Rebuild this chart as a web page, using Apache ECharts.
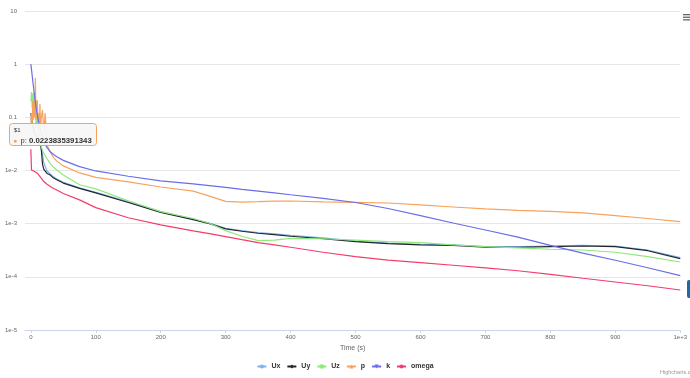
<!DOCTYPE html>
<html>
<head>
<meta charset="utf-8">
<script src="https://cdn.jsdelivr.net/npm/echarts@6/dist/echarts.min.js"></script>
<style>
  html, body { margin: 0; padding: 0; background: #fff; }
  #chart { width: 690px; height: 378px; }
</style>
</head>
<body>
<div id="chart"></div>
<script>
// residuals vs time
const time = [0, 1, 2, 3, 4, 5, 6, 7, 8, 9, 10, 11, 12, 13, 14, 15, 16, 18, 20, 22, 25, 30, 35, 40, 50, 75, 100, 150, 200, 250, 275, 300, 325, 350, 375, 400, 450, 500, 550, 600, 650, 700, 750, 800, 850, 900, 950, 1000]

const ux = [0.1, 0.09, 0.075, 0.065, 0.058, 0.052, 0.048, 0.045, 0.042, 0.04, 0.038, 0.036, 0.034, 0.032, 0.03, 0.028, 0.026, 0.02, 0.014, 0.012, 0.0098, 0.0086, 0.0076, 0.0069, 0.006, 0.0047, 0.0039, 0.0026, 0.00168, 0.00122, 0.00103, 0.00082, 0.00074, 0.00068, 0.00064, 0.0006, 0.00054, 0.00047, 0.00043, 0.00041, 0.0004, 0.00037, 0.00037, 0.00038, 0.00039, 0.00038, 0.00032, 0.00023]
const uy = [0.12, 0.1, 0.08, 0.07, 0.062, 0.056, 0.05, 0.047, 0.044, 0.042, 0.04, 0.038, 0.036, 0.034, 0.032, 0.03, 0.026, 0.013, 0.0105, 0.0112, 0.0088, 0.0082, 0.0072, 0.0067, 0.0058, 0.0046, 0.0038, 0.0025, 0.00163, 0.00119, 0.001, 0.0008, 0.00072, 0.00066, 0.00062, 0.00058, 0.00052, 0.00046, 0.00042, 0.0004, 0.00039, 0.00036, 0.00036, 0.00037, 0.00038, 0.00037, 0.00031, 0.00022]
const uz = [0.2, 0.3, 0.15, 0.28, 0.12, 0.2, 0.1, 0.14, 0.07, 0.21, 0.06, 0.08, 0.045, 0.05, 0.035, 0.03, 0.028, 0.024, 0.021, 0.019, 0.0165, 0.0135, 0.0115, 0.0102, 0.0082, 0.0054, 0.0045, 0.0027, 0.00168, 0.00125, 0.00102, 0.00074, 0.00058, 0.00048, 0.00049, 0.00053, 0.00052, 0.00049, 0.00046, 0.00044, 0.0004, 0.00037, 0.00035, 0.00033, 0.00032, 0.00029, 0.00024, 0.00019]
const p = [0.08, 0.12, 0.07, 0.2, 0.09, 0.3, 0.1, 0.55, 0.09, 0.15, 0.21, 0.07, 0.12, 0.06, 0.18, 0.06, 0.1, 0.137, 0.05, 0.12, 0.03, 0.022, 0.0175, 0.015, 0.0122, 0.009, 0.0074, 0.0061, 0.0049, 0.0041, 0.0033, 0.00263, 0.00254, 0.00259, 0.00265, 0.00267, 0.00256, 0.00252, 0.00245, 0.00225, 0.00206, 0.00189, 0.00178, 0.0017, 0.00159, 0.00142, 0.00125, 0.00109]
const k = [1.0, 0.8, 0.62, 0.48, 0.38, 0.3, 0.24, 0.19, 0.155, 0.13, 0.11, 0.095, 0.082, 0.072, 0.064, 0.057, 0.051, 0.043, 0.036, 0.031, 0.027, 0.0225, 0.02, 0.0182, 0.0155, 0.0118, 0.0098, 0.0078, 0.0064, 0.0056, 0.0052, 0.0048, 0.0044, 0.0041, 0.0038, 0.0035, 0.003, 0.0025, 0.00193, 0.00142, 0.00103, 0.00076, 0.00056, 0.00039, 0.00028, 0.000205, 0.000148, 0.000105]
const omega = [0.025, 0.0102, 0.0101, 0.01, 0.0099, 0.0097, 0.0095, 0.0093, 0.0091, 0.009, 0.0089, 0.0086, 0.0083, 0.008, 0.0077, 0.0075, 0.0072, 0.0067, 0.0062, 0.0059, 0.0055, 0.005, 0.0046, 0.0043, 0.0037, 0.0028, 0.002, 0.00129, 0.00095, 0.00073, 0.00065, 0.00057, 0.0005, 0.00044, 0.0004, 0.00036, 0.00029, 0.00024, 0.000207, 0.000185, 0.000165, 0.000147, 0.00013, 0.000111, 0.000094, 0.00008, 0.000068, 0.0000566]

const xTicks = [0, 100, 200, 300, 400, 500, 600, 700, 800, 900, 1000]

const names = ['Ux', 'Uy', 'Uz', 'p', 'k', 'omega']
const colors = ['#7cb5ec', '#25252f', '#8ee97a', '#f7a35c', '#6a6de8', '#f23d6d']
const symbols = ['circle', 'diamond', 'rect', 'triangle', 'path://M0,0L10,0L5,10Z', 'circle']
const values = [ux, uy, uz, p, k, omega]

const font = 'Liberation Sans, Arial, sans-serif'

const chart = echarts.init(document.getElementById('chart'))

const option = {
  animation: false,
  color: colors,
  grid: { left: 25, right: 4, top: 11, bottom: 48, containLabel: false },
  legend: {
    data: names,
    left: 'center',
    top: 358,
    itemWidth: 9,
    itemHeight: 5,
    itemGap: 6,
    textStyle: { fontSize: 7, fontWeight: 'bold', color: '#333', fontFamily: font }
  },
  xAxis: {
    type: 'value',
    min: -9,
    max: 1000,
    name: 'Time (s)',
    nameLocation: 'middle',
    nameGap: 13,
    nameTextStyle: { fontSize: 7, color: '#666', fontFamily: font },
    axisLine: { lineStyle: { color: '#ccd6eb' } },
    axisTick: { show: true, length: 3, customValues: xTicks, lineStyle: { color: '#ccd6eb' } },
    axisLabel: {
      customValues: xTicks,
      fontSize: 6,
      color: '#666',
      margin: 4,
      fontFamily: font,
      formatter: v => (v === 1000 ? '1e+3' : String(v))
    },
    splitLine: { show: false }
  },
  yAxis: {
    type: 'log',
    logBase: 10,
    min: 1e-5,
    max: 10,
    splitNumber: 6,
    axisLine: { show: false },
    axisTick: { show: false },
    axisLabel: {
      fontSize: 6,
      color: '#666',
      margin: 8,
      fontFamily: font,
      formatter: v => {
        const e = Math.round(Math.log10(v))
        if (e === 1) return '10'
        if (e === 0) return '1'
        if (e === -1) return '0.1'
        return '1e' + e
      }
    },
    splitLine: { lineStyle: { color: '#e6e6e6' } }
  },
  series: names.map((name, i) => ({
    name,
    type: 'line',
    data: time.map((t, j) => [t, values[i][j]]),
    symbol: symbols[i],
    showSymbol: false,
    smooth: false,
    lineStyle: { width: 1.2, color: colors[i] },
    itemStyle: { color: colors[i] }
  })),
  graphic: [
    // hover tooltip as it appears in the screenshot
    {
      type: 'group',
      left: 9,
      top: 123,
      z: 100,
      children: [
        {
          type: 'rect',
          z: 100,
          shape: { x: 0.5, y: 0.5, width: 87, height: 22, r: 3 },
          style: { fill: 'rgba(247,247,247,0.95)', stroke: '#f7a35c', lineWidth: 1 }
        },
        {
          type: 'text',
          z: 101,
          x: 5, y: 4,
          style: { text: '$1', fontSize: 6, fill: '#333', fontFamily: font }
        },
        {
          type: 'text',
          z: 101,
          x: 4, y: 12,
          style: {
            text: '{d|●} {l|p: }{v|0.0223835391343}',
            fontFamily: font,
            rich: {
              d: { fontSize: 7, fill: '#f7a35c' },
              l: { fontSize: 7.5, fill: '#333' },
              v: { fontSize: 7.8, fontWeight: 'bold', fill: '#333' }
            }
          }
        }
      ]
    },
    // export menu
    { type: 'rect', shape: { x: 683, y: 14, width: 7, height: 1.3 }, style: { fill: '#666' } },
    { type: 'rect', shape: { x: 683, y: 16.6, width: 7, height: 1.3 }, style: { fill: '#666' } },
    { type: 'rect', shape: { x: 683, y: 19.2, width: 7, height: 1.3 }, style: { fill: '#666' } },
    // side tab on the right edge
    { type: 'rect', shape: { x: 687, y: 280, width: 8, height: 18, r: 2 }, style: { fill: '#1b6aa6' } },
    // credits
    {
      type: 'text',
      x: 660, y: 369,
      style: { text: 'Highcharts.com', fontSize: 5.5, fill: '#999', fontFamily: font }
    }
  ]
}

chart.setOption(option)
</script>
</body>
</html>
